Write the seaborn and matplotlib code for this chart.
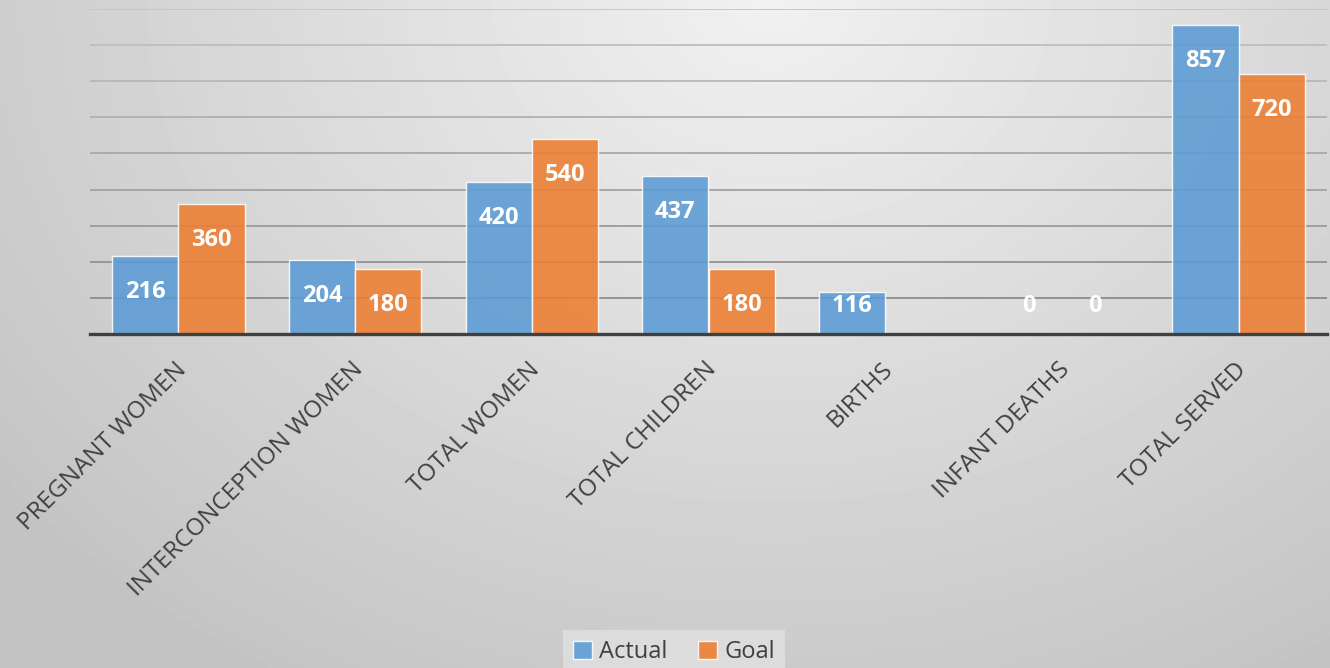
import numpy as np
import pandas as pd
import matplotlib
matplotlib.use("Agg")
from matplotlib import pyplot as plt
from matplotlib import transforms
import seaborn as sns

categories = ["PREGNANT WOMEN", "INTERCONCEPTION WOMEN", "TOTAL WOMEN",
              "TOTAL CHILDREN", "BIRTHS", "INFANT DEATHS", "TOTAL SERVED"]
actual = [216, 204, 420, 437, 116, 0, 857]
goal = [360, 180, 540, 180, np.nan, 0, 720]
series = ["Actual", "Goal"]
colors = ["#5B9BD5", "#ED7D31"]

df = pd.DataFrame({
    "category": categories * 2,
    "series": ["Actual"] * len(categories) + ["Goal"] * len(categories),
    "value": actual + goal,
})

sns.set_theme(style="white")
plt.rcParams["font.family"] = ["Open Sans", "DejaVu Sans"]

fig = plt.figure(figsize=(13.3, 6.68), dpi=100)

# gradient background for the whole chart area
bg = fig.add_axes([0, 0, 1, 1], zorder=-10)
yy, xx = np.mgrid[0:1:200j, 0:1:400j]
dist = np.sqrt(((xx - 0.58) * 1.6) ** 2 + (yy * 1.0) ** 2)
shade = 0.945 - 0.15 * np.clip(dist, 0, 1.2)
bg.imshow(shade, cmap="gray", vmin=0, vmax=1, aspect="auto", extent=[0, 1, 1, 0])
bg.set_axis_off()

ax = fig.add_axes([90 / 1330, 1 - 334 / 668, 1237 / 1330, 325 / 668])
ax.set_facecolor("none")

sns.barplot(data=df, x="category", y="value", hue="series", order=categories,
            hue_order=series, palette=colors, width=0.75, gap=0, alpha=0.88,
            edgecolor="white", linewidth=1, saturation=1, ax=ax, legend=True)

ax.set_ylim(0, 900)
ax.set_xlim(-0.5, len(categories) - 0.5)
ax.set_yticks(np.arange(100, 901, 100))
ax.set_yticklabels([])
ax.tick_params(axis="y", length=0)
ax.yaxis.grid(True, linewidth=1.3)
ax.set_axisbelow(True)
for i, gl in enumerate(ax.get_ygridlines()):
    g = 0.55 + 0.028 * i
    gl.set_color((g, g, g))

for side in ["left", "right", "top"]:
    ax.spines[side].set_visible(False)
ax.spines["bottom"].set_color("#404040")
ax.spines["bottom"].set_linewidth(2.4)

ax.set_xlabel("")
ax.set_ylabel("")
ax.tick_params(axis="x", length=0, pad=17, labelsize=17.5, labelcolor="#404040")
offset = transforms.ScaledTranslation(-4 / 100, 0, fig.dpi_scale_trans)
for lbl in ax.get_xticklabels():
    lbl.set_rotation(45)
    lbl.set_ha("right")
    lbl.set_va("top")
    lbl.set_rotation_mode("anchor")
    lbl.set_transform(lbl.get_transform() + offset)

# data labels inside the bar ends
for container in ax.containers:
    for bar in container:
        h = bar.get_height()
        if h is None or np.isnan(h):
            continue
        x = bar.get_x() + bar.get_width() / 2
        ax.text(x, max(h - 100, 78), f"{h:.0f}", ha="center", va="center",
                color="white", fontsize=17, fontweight="bold")

ax.legend_.remove()
handles = [plt.Rectangle((0, 0), 1, 1, facecolor=c, edgecolor="white", alpha=0.88)
           for c in colors]
leg = fig.legend(handles, series, loc="upper center",
                 bbox_to_anchor=(674 / 1330, 1 - 618 / 668), ncol=2,
                 frameon=True, fontsize=17, handlelength=0.8, handleheight=0.8,
                 handletextpad=0.3, columnspacing=1.3, borderpad=0.45,
                 fancybox=False)
leg.get_frame().set_facecolor("#e1e1e1")
leg.get_frame().set_edgecolor("none")
for t in leg.get_texts():
    t.set_color("#404040")

fig.savefig("out.png", dpi=100)
